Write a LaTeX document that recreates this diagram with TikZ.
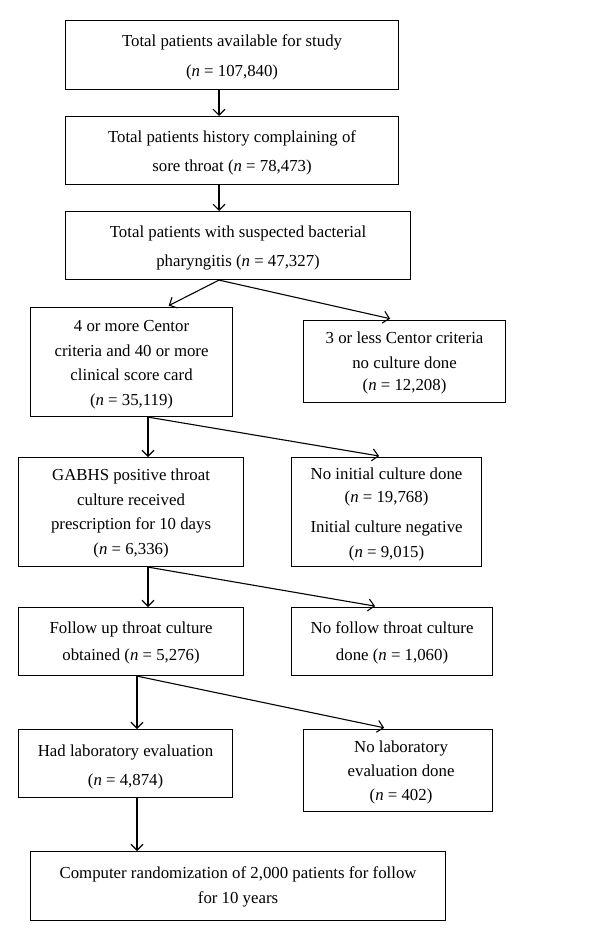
\documentclass[tikz,border=0pt]{standalone}
\usepackage{fontspec}
\setmainfont{Liberation Serif}
\usetikzlibrary{arrows.meta}
\begin{document}
\begin{tikzpicture}[x=1pt,y=-1pt,
  box/.style={draw, line width=1.1pt, inner sep=0pt, anchor=north west},
  txt/.style={inner sep=0pt, align=center, yshift=-2.5pt, font=\fontsize{16.8}{24.5}\selectfont},
  arr/.style={line width=1.1pt, -{Straight Barb[length=6pt,width=12pt]}},
]
\useasboundingbox (0,0) rectangle (600,941);
\node[box, minimum width=333pt, minimum height=69pt] (b1) at (65,20) {};
\node[box, minimum width=333pt, minimum height=68pt] (b2) at (65,116) {};
\node[box, minimum width=345pt, minimum height=68pt] (b3) at (65,211) {};
\node[box, minimum width=202pt, minimum height=109pt] (b4l) at (30,307) {};
\node[box, minimum width=202pt, minimum height=82pt] (b4r) at (303,320) {};
\node[box, minimum width=225pt, minimum height=109pt] (b5l) at (18,457) {};
\node[box, minimum width=190pt, minimum height=109pt] (b5r) at (291,457) {};
\node[box, minimum width=225pt, minimum height=68pt] (b6l) at (18,607) {};
\node[box, minimum width=201pt, minimum height=68pt] (b6r) at (291,607) {};
\node[box, minimum width=214pt, minimum height=68pt] (b7l) at (18,729) {};
\node[box, minimum width=189pt, minimum height=82pt] (b7r) at (303,729) {};
\node[box, minimum width=415pt, minimum height=69pt] (b8) at (30,851) {};

\node[txt] (t1) at (b1.center)
  {Total patients available for study\\[5pt](\textit{n} = 107,840)};
\node[txt] (t2) at (b2.center)
  {Total patients history complaining of\\[5pt]sore throat (\textit{n} = 78,473)};
\node[txt] (t3) at (b3.center)
  {Total patients with suspected bacterial\\[5pt]pharyngitis (\textit{n} = 47,327)};
\node[txt] (t4l) at (b4l.center)
  {4 or more Centor\\criteria and 40 or more\\clinical score card\\(\textit{n} = 35,119)};
\node[txt, yshift=1pt] (t4r) at (b4r.center)
  {3 or less Centor criteria\\no culture done\\[-2pt](\textit{n} = 12,208)};
\node[txt, yshift=1pt] (t5l) at (b5l.center)
  {GABHS positive throat\\culture received\\prescription for 10 days\\(\textit{n} = 6,336)};
\node[txt] (t5r) at (b5r.center)
  {No initial culture done\\[-2pt](\textit{n} = 19,768)\\[6pt]Initial culture negative\\(\textit{n} = 9,015)};
\node[txt, yshift=1pt] (t6l) at (b6l.center)
  {Follow up throat culture\\[3pt]obtained (\textit{n} = 5,276)};
\node[txt, yshift=1pt] (t6r) at (b6r.center)
  {No follow throat culture\\[3pt]done (\textit{n} = 1,060)};
\node[txt, yshift=-1pt] (t7l) at (b7l.center)
  {Had laboratory evaluation\\[5pt](\textit{n} = 4,874)};
\node[txt, yshift=1pt] (t7r) at ([xshift=3pt]b7r.center)
  {No laboratory\\evaluation done\\[-1pt](\textit{n} = 402)};
\node[txt, yshift=1.5pt] (t8) at (b8.center)
  {Computer randomization of 2,000 patients for follow\\for 10 years};

\draw[arr] ([xshift=154pt]b1.south west) -- ([xshift=154pt]b2.north west);
\draw[arr] ([xshift=154pt]b2.south west) -- ([xshift=154pt]b3.north west);
\draw[arr, shorten >=3pt] ([xshift=154pt]b3.south west) -- ([xshift=136pt]b4l.north west);
\draw[arr, shorten >=6pt] ([xshift=154pt]b3.south west) -- ([xshift=93pt]b4r.north west);
\draw[arr] ([xshift=118pt]b4l.south west) -- ([xshift=130pt]b5l.north west);
\draw[arr, shorten >=6pt] ([xshift=118pt]b4l.south west) -- ([xshift=94pt]b5r.north west);
\draw[arr] ([xshift=130pt]b5l.south west) -- ([xshift=130pt]b6l.north west);
\draw[arr, shorten >=5pt] ([xshift=130pt]b5l.south west) -- ([xshift=89pt]b6r.north west);
\draw[arr] ([xshift=119pt]b6l.south west) -- ([xshift=119pt]b7l.north west);
\draw[arr, shorten >=6pt] ([xshift=119pt]b6l.south west) -- ([xshift=87pt]b7r.north west);
\draw[arr] ([xshift=119pt]b7l.south west) -- ([xshift=107pt]b8.north west);
\end{tikzpicture}
\end{document}
